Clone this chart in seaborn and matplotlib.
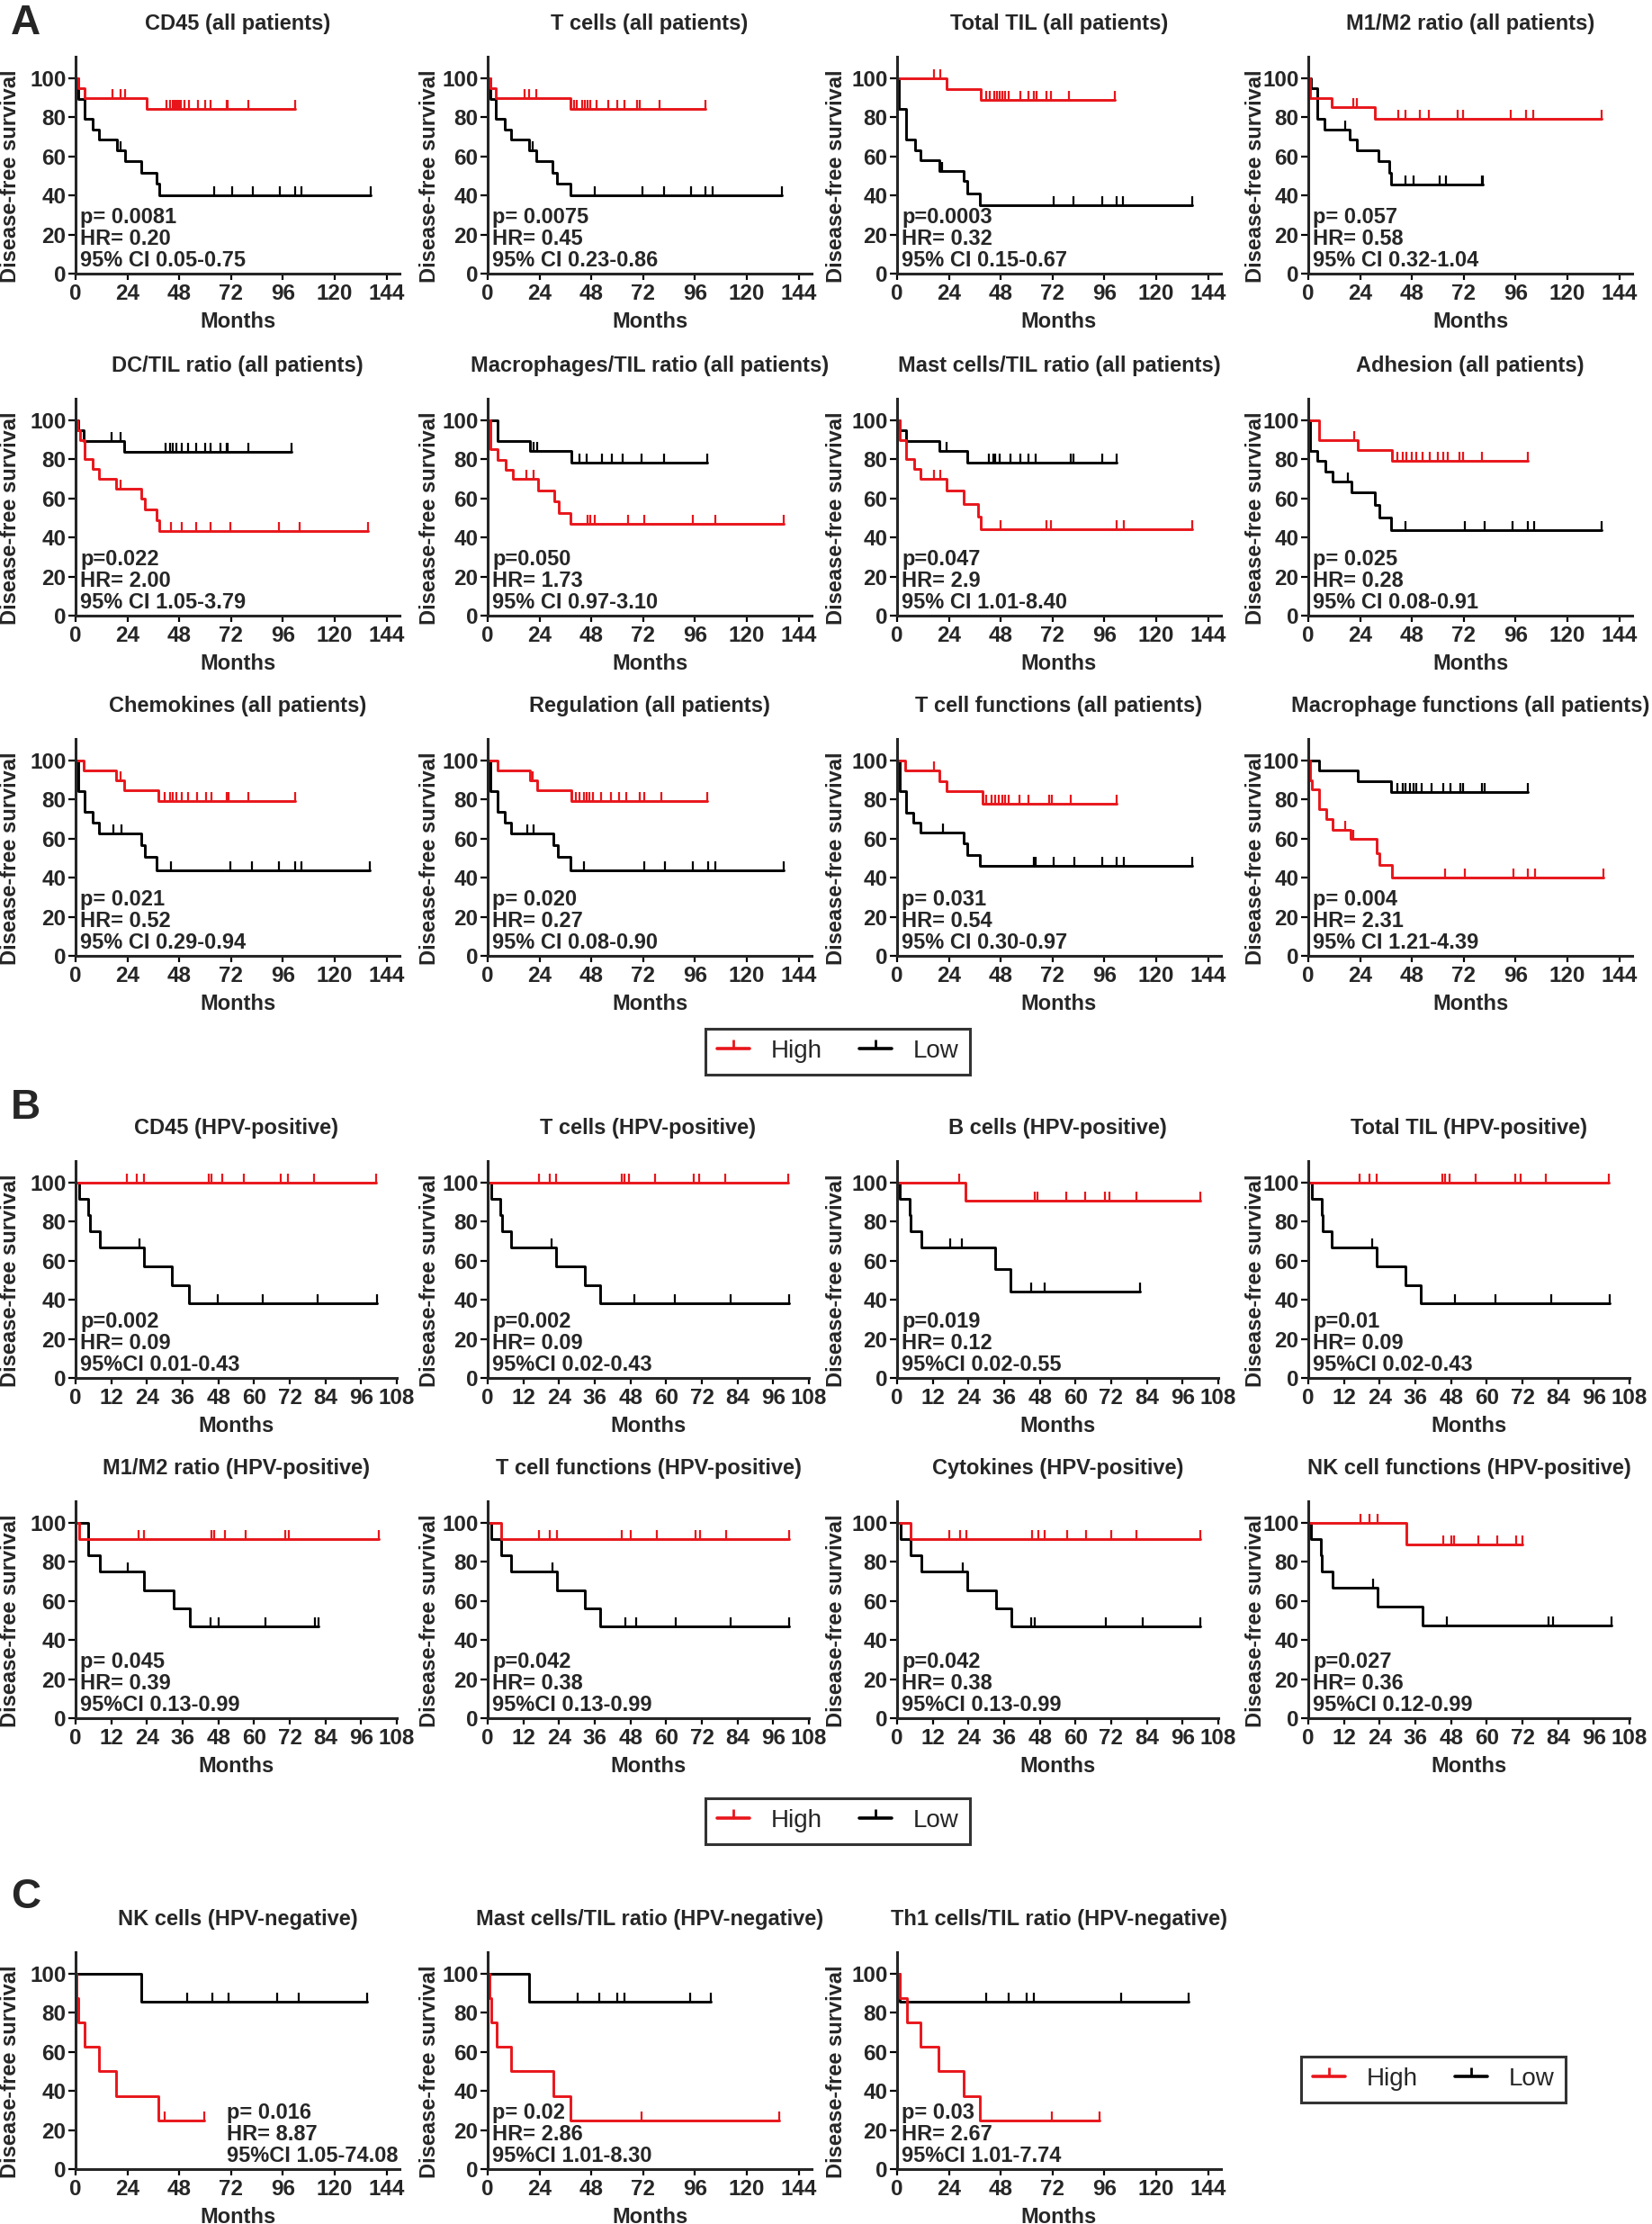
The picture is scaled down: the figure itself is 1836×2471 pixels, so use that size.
import numpy as np
import matplotlib
matplotlib.use("Agg")
import matplotlib.pyplot as plt
from matplotlib.lines import Line2D
import seaborn as sns

# ---------------- data (months, % disease-free) ----------------
# *_t : event times, *_s : survival after each event, *_c : censor times (last = end of curve)
cd45_all = dict(title="CD45 (all patients)",
    hi_t=[1.2, 4.1, 32.8], hi_s=[95.0, 90.0, 84.5],
    hi_c=[17, 20.7, 22.9, 42, 43.6, 45, 45.7, 46.7, 47.4, 48.2, 48.9, 50.4, 52.3, 56.7, 60.1, 62.5, 69.8, 70.6, 80, 101.5],
    lo_t=[1.2, 4.1, 7.8, 11, 19.2, 22.9, 30.4, 37.7, 38.9], lo_s=[89.5, 79.0, 73.7, 68.4, 63.2, 57.4, 51.7, 46.0, 40.2],
    lo_c=[20.7, 64, 72.3, 82, 94.6, 101.5, 104.4, 136.7],
    stats=["p= 0.0081", "HR= 0.20", "95% CI 0.05-0.75"])
tcell_all = dict(title="T cells (all patients)",
    hi_t=[1.2, 3.6, 38.4], hi_s=[95.0, 90.0, 84.3],
    hi_c=[17, 19, 22.4, 40.1, 41.4, 43.8, 45, 46.2, 47.4, 50.6, 55.9, 60, 63.3, 69.3, 70.6, 79.6, 101],
    lo_t=[1.2, 3.6, 7.8, 11, 19, 22.6, 29.9, 32.1, 38.2], lo_s=[89.5, 79.0, 73.7, 68.4, 63.2, 57.4, 51.7, 46.0, 40.2],
    lo_c=[20.7, 49.4, 71.8, 81.5, 94.2, 101, 104.1, 136.3],
    stats=["p= 0.0075", "HR= 0.45", "95% CI 0.23-0.86"])
til_all = dict(title="Total TIL (all patients)",
    hi_t=[23.1, 38.9], hi_s=[94.6, 88.8],
    hi_c=[17, 20.2, 41.4, 43.1, 45, 46.2, 47.4, 48.7, 49.9, 51.8, 57.2, 60.8, 63.3, 64.5, 69.3, 71.3, 79.6, 101],
    lo_t=[0.7, 4.1, 8.5, 11, 19.5, 30.9, 32.4, 38.2], lo_s=[84.2, 68.4, 63.2, 57.9, 52.6, 47.4, 40.9, 35.1],
    lo_c=[20.7, 72.3, 81.5, 94.9, 101.7, 104.6, 136.7],
    stats=["p=0.0003", "HR= 0.32", "95% CI 0.15-0.67"])
m1m2_all = dict(title="M1/M2 ratio (all patients)",
    hi_t=[0.7, 10.9, 30.9], hi_s=[90.0, 85.0, 79.3],
    hi_c=[20.7, 22.4, 41.8, 45, 51.6, 56, 69.3, 71.8, 93.7, 101, 104.1, 135.8],
    lo_t=[1.2, 4.1, 7.3, 19, 22.4, 32.4, 37.5, 38.5], lo_s=[94.7, 79.0, 73.7, 68.4, 63.2, 57.4, 51.7, 45.5],
    lo_c=[17, 45, 48.7, 60.8, 63.7, 80.3, 81],
    stats=["p= 0.057", "HR= 0.58", "95% CI 0.32-1.04"])
dc_all = dict(title="DC/TIL ratio (all patients)",
    hi_t=[1.0, 2.0, 4.1, 7.8, 10.7, 18.7, 30.4, 32.1, 37.7, 38.7],
    hi_s=[95, 90, 80, 75, 70, 65, 59.8, 54.5, 49.0, 43.5],
    hi_c=[20.7, 44.3, 49.1, 55.7, 62.5, 71.8, 94.2, 103.9, 135.5],
    lo_t=[1.2, 3.6, 22.4], lo_s=[94.7, 89.5, 83.6],
    lo_c=[16.8, 20.7, 41.8, 43.6, 45, 46.7, 49.1, 52, 55.7, 60.1, 62.5, 66.9, 69.8, 70.6, 80, 100.2],
    stats=["p=0.022", "HR= 2.00", "95% CI 1.05-3.79"])
mac_all = dict(title="Macrophages/TIL ratio (all patients)",
    hi_t=[1.2, 4.4, 8.5, 11.7, 23.4, 30.7, 32.8, 38.4], hi_s=[85.4, 79.9, 74.7, 69.9, 64.2, 58.4, 52.7, 46.9],
    hi_c=[17.8, 21.4, 46.2, 47.7, 49.4, 65.2, 72.5, 95.1, 105.3, 136.9],
    lo_t=[4.4, 19.5, 38.9], lo_s=[89.5, 84.2, 78.4],
    lo_c=[21.2, 23.1, 42.6, 45.7, 52.8, 57.7, 62.3, 71.3, 81.8, 101.7],
    stats=["p=0.050", "HR= 1.73", "95% CI 0.97-3.10"])
mast_all = dict(title="Mast cells/TIL ratio (all patients)",
    hi_t=[1.2, 4.1, 8, 11, 23.1, 30.9, 37.7, 38.9], hi_s=[90, 80, 75, 70, 63.9, 57.3, 50.8, 44.2],
    hi_c=[17, 20.2, 47.9, 69.3, 71.3, 101.5, 105.1, 136.7],
    lo_t=[1.2, 4.1, 19.5, 32.4], lo_s=[94.7, 89.5, 84.2, 78.5],
    lo_c=[23.1, 42.6, 44.5, 45.5, 47.4, 52.3, 57.2, 60.8, 64, 80.3, 81.5, 94.9, 101.5],
    stats=["p=0.047", "HR= 2.9", "95% CI 1.01-8.40"])
adhesion_all = dict(title="Adhesion (all patients)",
    hi_t=[4.9, 23.1, 38.7], hi_s=[90.0, 84.6, 79.1],
    hi_c=[21.2, 41.4, 43.6, 45.5, 47.9, 49.9, 52.8, 56.4, 60.1, 62.5, 64.5, 69.8, 71.5, 80.3, 101.5],
    lo_t=[1.0, 4.1, 7.8, 11.4, 20, 30.9, 32.8, 38.2], lo_s=[84.2, 79.0, 73.7, 68.4, 63.2, 56.5, 50.4, 43.8],
    lo_c=[18.2, 44.8, 72.3, 81.5, 94.6, 101.5, 104.6, 136],
    stats=["p= 0.025", "HR= 0.28", "95% CI 0.08-0.91"])
chemo_all = dict(title="Chemokines (all patients)",
    hi_t=[3.6, 18.7, 22.4, 38.2], hi_s=[94.8, 89.8, 84.7, 79.0],
    hi_c=[20.7, 41.1, 43.6, 45, 46.7, 49.1, 52, 56.4, 60.6, 63, 69.8, 71, 80, 101.5],
    lo_t=[1.2, 4.1, 7.8, 11, 30.4, 32.1, 37.7], lo_s=[84.4, 73.7, 68.3, 62.7, 56.6, 50.5, 43.9],
    lo_c=[17.5, 21.2, 44.3, 71.8, 81.5, 94.2, 101.5, 104.4, 136.3],
    stats=["p= 0.021", "HR= 0.52", "95% CI 0.29-0.94"])
regul_all = dict(title="Regulation (all patients)",
    hi_t=[4.4, 19.5, 23.1, 38.9], hi_s=[94.8, 89.8, 84.7, 79.0],
    hi_c=[20.7, 40.9, 42.6, 44.5, 45.7, 47, 48.7, 52.3, 57.2, 60.8, 64, 70.6, 72.3, 80.3, 101.7],
    lo_t=[1.2, 4.4, 7.8, 11, 30.4, 32.4, 38.4], lo_s=[84.4, 73.7, 68.3, 62.7, 56.6, 50.5, 43.9],
    lo_c=[18.2, 21.4, 44.5, 72.3, 82, 94.9, 102.2, 105.3, 137],
    stats=["p= 0.020", "HR= 0.27", "95% CI 0.08-0.90"])
tfunc_all = dict(title="T cell functions (all patients)",
    hi_t=[3.6, 19.5, 23.1, 39.4], hi_s=[94.7, 89.3, 84.3, 78.0],
    hi_c=[17, 41.4, 43.8, 45.5, 47, 48.7, 49.9, 51.8, 56.7, 60.8, 70.6, 71.8, 80.3, 101.5],
    lo_t=[1.2, 4.1, 7.3, 11, 30.9, 32.4, 38.2], lo_s=[84.2, 73.4, 68.1, 63.2, 57.4, 51.6, 46.0],
    lo_c=[21.2, 63.2, 64.2, 72.3, 82, 94.9, 101.7, 105.1, 136.7],
    stats=["p= 0.031", "HR= 0.54", "95% CI 0.30-0.97"])
macfunc_all = dict(title="Macrophage functions (all patients)",
    hi_t=[0.7, 1.7, 4.9, 8.5, 11.4, 19.5, 31.6, 32.8, 38.9], hi_s=[90, 85, 75.3, 70, 64.7, 59.7, 52.5, 46.4, 39.9],
    hi_c=[17, 20.7, 63.3, 72.3, 94.9, 101.7, 105.1, 136.7],
    lo_t=[4.9, 23.1, 38.4], lo_s=[94.7, 89.3, 83.7],
    lo_c=[41.4, 43.8, 45, 47, 48.7, 49.9, 52.3, 57.2, 62.5, 65.7, 70.6, 71.8, 80.3, 81.5, 101.7],
    stats=["p= 0.004", "HR= 2.31", "95% CI 1.21-4.39"])

cd45_hpv = dict(title="CD45 (HPV-positive)",
    hi_t=[], hi_s=[],
    hi_c=[17.1, 20.6, 23.1, 44.8, 45.7, 49.2, 56.6, 69.1, 71.3, 80.1, 100.9],
    lo_t=[1.2, 4.2, 4.8, 8.3, 23.1, 32.5, 38.1], lo_s=[91.7, 83.3, 75.0, 66.7, 57.1, 47.6, 38.1],
    lo_c=[21.5, 47.8, 63, 81.5, 101.2],
    stats=["p=0.002", "HR= 0.09", "95%CI 0.01-0.43"])
tcell_hpv = dict(title="T cells (HPV-positive)",
    hi_t=[], hi_s=[],
    hi_c=[17.1, 20.8, 22.9, 45, 45.9, 47.6, 56.4, 69.3, 71.1, 79.9, 100.9],
    lo_t=[1.2, 4.2, 4.8, 7.9, 22.9, 32.6, 37.9], lo_s=[91.7, 83.3, 75.0, 66.7, 57.1, 47.6, 38.1],
    lo_c=[21.5, 49.4, 63, 81.7, 101.4],
    stats=["p=0.002", "HR= 0.09", "95%CI 0.02-0.43"])
bcell_hpv = dict(title="B cells (HPV-positive)",
    hi_t=[23.0], hi_s=[90.9],
    hi_c=[20.8, 46.4, 47.3, 57, 63.2, 69.8, 71.5, 80.4, 101.8],
    lo_t=[0.9, 4.1, 4.6, 8.1, 32.9, 38.2], lo_s=[91.7, 83.3, 75.0, 66.7, 55.6, 44.4],
    lo_c=[17.7, 21.7, 45.2, 49.5, 81.8],
    stats=["p=0.019", "HR= 0.12", "95%CI 0.02-0.55"])
til_hpv = dict(title="Total TIL (HPV-positive)",
    hi_t=[], hi_s=[],
    hi_c=[17.1, 20.6, 22.9, 45, 45.9, 47.6, 56.4, 69.7, 71.4, 79.9, 101.1],
    lo_t=[1.2, 4.4, 4.8, 7.9, 22.9, 32.6, 37.9], lo_s=[91.7, 83.3, 75.0, 66.7, 57.1, 47.6, 38.1],
    lo_c=[21.5, 49.4, 63, 81.7, 101.4],
    stats=["p=0.01", "HR= 0.09", "95%CI 0.02-0.43"])
m1m2_hpv = dict(title="M1/M2 ratio (HPV-positive)",
    hi_t=[1.2], hi_s=[91.7],
    hi_c=[21.3, 23.1, 45.7, 46.6, 50.1, 57.1, 70.4, 71.8, 102.1],
    lo_t=[4.2, 8.3, 23.1, 33, 38.3], lo_s=[83.3, 75.0, 65.6, 56.3, 46.9],
    lo_c=[17.5, 45.3, 48, 63.7, 80.6, 81.8],
    stats=["p= 0.045", "HR= 0.39", "95%CI 0.13-0.99"])
tfunc_hpv = dict(title="T cell functions (HPV-positive)",
    hi_t=[4.4], hi_s=[91.7],
    hi_c=[17.1, 20.8, 23.3, 45, 48, 56.8, 70, 71.4, 80.2, 101.4],
    lo_t=[1.2, 4.4, 7.9, 23.3, 32.6, 37.9], lo_s=[91.7, 83.3, 75.0, 65.6, 56.3, 46.9],
    lo_c=[21.7, 46.4, 49.9, 63.1, 81.7, 101.4],
    stats=["p=0.042", "HR= 0.38", "95%CI 0.13-0.99"])
cytok_hpv = dict(title="Cytokines (HPV-positive)",
    hi_t=[4.4], hi_s=[91.7],
    hi_c=[17.6, 21.2, 23.3, 45.5, 47.6, 49.7, 57.3, 63.5, 72, 80.6, 101.9],
    lo_t=[1.2, 4.4, 8.3, 23.5, 33.2, 38.4], lo_s=[91.7, 83.3, 75.0, 65.6, 56.3, 46.9],
    lo_c=[22, 45, 46.2, 70.2, 82.5, 101.9],
    stats=["p=0.042", "HR= 0.38", "95%CI 0.13-0.99"])
nkfunc_hpv = dict(title="NK cell functions (HPV-positive)",
    hi_t=[33.0], hi_s=[88.9],
    hi_c=[17.5, 20.6, 23.3, 45.3, 48, 48.9, 57.1, 63.5, 70, 72.1],
    lo_t=[0.9, 4.2, 4.6, 8.3, 23.3, 38.3], lo_s=[91.7, 83.3, 75.0, 66.7, 57.1, 47.6],
    lo_c=[21.9, 46.7, 80.9, 82.3, 102.1],
    stats=["p=0.027", "HR= 0.36", "95%CI 0.12-0.99"])

nk_neg = dict(title="NK cells (HPV-negative)",
    hi_t=[0.6, 1.2, 4.1, 11, 18.7, 38.2], hi_s=[87.5, 75.0, 62.5, 50.0, 37.5, 25.0],
    hi_c=[41.1, 59.6],
    lo_t=[30.4], lo_s=[85.7],
    lo_c=[51.6, 63.3, 71, 93.4, 103.4, 134.8],
    stats=["p= 0.016", "HR= 8.87", "95%CI 1.05-74.08"])
mast_neg = dict(title="Mast cells/TIL ratio (HPV-negative)",
    hi_t=[0.8, 1.7, 4.1, 11, 30.4, 38.4], hi_s=[87.5, 75.0, 62.5, 50.0, 37.5, 25.0],
    hi_c=[71.3, 135],
    lo_t=[19.0], lo_s=[85.7],
    lo_c=[41.8, 51.8, 60.1, 63.3, 93.7, 103.4],
    stats=["p= 0.02", "HR= 2.86", "95%CI 1.01-8.30"])
th1_neg = dict(title="Th1 cells/TIL ratio (HPV-negative)",
    hi_t=[1.2, 4.4, 11, 19, 30.7, 38.4], hi_s=[87.5, 75.0, 62.5, 50.0, 37.5, 25.0],
    hi_c=[71.8, 93.7],
    lo_t=[1.2], lo_s=[85.7],
    lo_c=[41.4, 51.8, 59.9, 63.5, 103.6, 135],
    stats=["p= 0.03", "HR= 2.67", "95%CI 1.01-7.74"])

PANELS_A = [cd45_all, tcell_all, til_all, m1m2_all, dc_all, mac_all, mast_all, adhesion_all,
            chemo_all, regul_all, tfunc_all, macfunc_all]
PANELS_B = [cd45_hpv, tcell_hpv, bcell_hpv, til_hpv, m1m2_hpv, tfunc_hpv, cytok_hpv, nkfunc_hpv]
PANELS_C = [nk_neg, mast_neg, th1_neg]
LEGEND_LABELS = ["High", "Low"]

# ---------------- style ----------------
RED = "#e8161b"
BLACK = "#000000"
sns.set_style("ticks")
plt.rcParams["font.family"] = ["Liberation Sans", "DejaVu Sans"]
plt.rcParams["axes.linewidth"] = 2.2

W, H = 1836, 2471
fig = plt.figure(figsize=(W / 100, H / 100), dpi=100)

COL_X = [84, 542, 997, 1454]
YLAB_OFF = [72, 65, 67, 59]
AX_H = 241
YMAX = 111


def draw_panel(col, y_bottom, p, xmax, xticks, width, stats_dx=5):
    ax = fig.add_axes([COL_X[col] / W, 1 - y_bottom / H, width / W, AX_H / H])
    for key, color in (("lo", BLACK), ("hi", RED)):
        t = [0.0] + list(p[key + "_t"])
        s = [100.0] + list(p[key + "_s"])
        cens = np.array(p[key + "_c"], dtype=float)
        end = float(cens.max())
        sns.lineplot(x=t + [end], y=s + [s[-1]], drawstyle="steps-post", estimator=None,
                     sort=False, color=color, linewidth=2.1, ax=ax, legend=False)
        idx = np.searchsorted(np.array(t), cens, side="right") - 1
        ax.plot(cens, np.array(s)[idx], ls="none", marker=2, ms=7, mew=1.6,
                color=color, clip_on=False)
    ax.set_xlim(0, xmax)
    ax.set_ylim(0, YMAX)
    ax.set_xticks(xticks)
    ax.set_yticks([0, 20, 40, 60, 80, 100])
    ax.set_xlabel("")
    ax.set_ylabel("")
    for sp in ("top", "right"):
        ax.spines[sp].set_visible(False)
    for sp in ("left", "bottom"):
        ax.spines[sp].set_linewidth(2.2)
    ax.tick_params(axis="both", width=1.6, labelsize=17.5, color="black")
    ax.tick_params(axis="x", length=5, pad=3)
    ax.tick_params(axis="y", length=6, pad=1.5)
    for lab in ax.get_xticklabels() + ax.get_yticklabels():
        lab.set_fontweight("bold")
    ax.text(0.5, 1 + 30 / AX_H, p["title"], transform=ax.transAxes, ha="center",
            va="baseline", fontsize=17, fontweight="bold")
    ax.text(0.5, -60 / AX_H, "Months", transform=ax.transAxes, ha="center",
            va="baseline", fontsize=17, fontweight="bold")
    ax.text(-YLAB_OFF[col] / width, 50 / YMAX, "Disease-free survival", transform=ax.transAxes,
            rotation=90, ha="center", va="center", fontsize=17, fontweight="bold")
    for i, line in enumerate(p["stats"]):
        ax.text(stats_dx / width, (56 - 24 * i) / AX_H, line, transform=ax.transAxes,
                ha="left", va="baseline", fontsize=17, fontweight="bold")
    return ax


A_ROWS = [304, 684, 1062]
for i, p in enumerate(PANELS_A):
    draw_panel(i % 4, A_ROWS[i // 4], p, 150, list(range(0, 145, 24)), 360)

B_ROWS = [1531, 1909]
for i, p in enumerate(PANELS_B):
    draw_panel(i % 4, B_ROWS[i // 4], p, 108, list(range(0, 109, 12)), 357)

for i, p in enumerate(PANELS_C):
    draw_panel(i, 2410, p, 150, list(range(0, 145, 24)), 360, stats_dx=(168 if i == 0 else 5))

# panel letters
for letter, base in (("A", 38), ("B", 1243), ("C", 2120)):
    fig.text(12 / W, 1 - base / H, letter, fontsize=33, fontweight="bold", va="baseline", ha="left")

# legends
handles = [Line2D([], [], color=RED, lw=2.6, marker=2, ms=7, mew=2),
           Line2D([], [], color=BLACK, lw=2.6, marker=2, ms=7, mew=2)]
for cx, cy in ((931, 1168), (931, 2023), (1593, 2310)):
    leg = fig.legend(handles, LEGEND_LABELS, loc="center", bbox_to_anchor=(cx / W, 1 - cy / H),
                     ncol=2, fontsize=20, frameon=True, fancybox=False, edgecolor="black",
                     numpoints=1, handlelength=1.3, handletextpad=0.85, columnspacing=1.5,
                     borderpad=0.45)
    leg.get_frame().set_linewidth(2.2)

fig.savefig("out.png", dpi=100)
